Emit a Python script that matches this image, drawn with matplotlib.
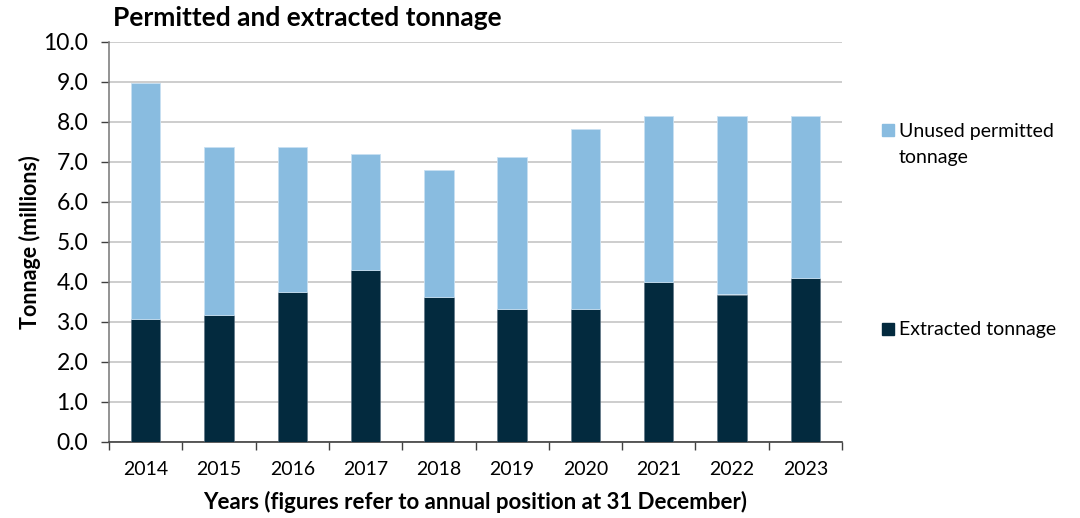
import matplotlib.pyplot as plt
import numpy as np
from matplotlib.patches import Rectangle

plt.rcParams['font.family'] = ['Lato', 'DejaVu Sans']

# Data (millions of tonnes)
years = ["2014", "2015", "2016", "2017", "2018", "2019", "2020", "2021", "2022", "2023"]
extracted = [3.07, 3.16, 3.74, 4.29, 3.63, 3.33, 3.33, 3.99, 3.68, 4.09]
permitted = [8.96, 7.38, 7.38, 7.18, 6.80, 7.13, 7.83, 8.13, 8.13, 8.13]
unused = [p - e for p, e in zip(permitted, extracted)]

dark = "#032a3e"
light = "#89bce0"

fig = plt.figure(figsize=(10.8, 5.18), dpi=100)
ax = fig.add_axes([109 / 1080, 1 - 441.7 / 518, 733 / 1080, 400 / 518])

x = np.arange(len(years))
ax.bar(x, extracted, width=0.4, color=dark, edgecolor="#5a7080", linewidth=0.4, zorder=3)
ax.bar(x, unused, width=0.4, bottom=extracted, color=light, edgecolor="#c8e0f2", linewidth=0.6, zorder=3)

ax.set_xlim(-0.5, len(years) - 0.5)
ax.set_ylim(0, 10)
yt = np.arange(0, 10.1, 1.0)
ax.set_yticks(yt)
ax.set_yticklabels([f"{v:.1f}" for v in yt], fontsize=16.5)
ax.yaxis.grid(True, color="#c0c0c0", linewidth=1.1, zorder=0)
ax.set_axisbelow(True)

# category labels centered, tick marks at category boundaries
ax.set_xticks(x)
ax.set_xticklabels(years, fontsize=14)
ax.tick_params(axis="x", length=0, pad=14)
ax.set_xticks(np.arange(-0.5, len(years)), minor=True)
ax.tick_params(axis="x", which="minor", length=6, width=1, color="#404040", direction="out")
ax.tick_params(axis="y", length=6, width=1, color="#404040", pad=9)

for s in ["top", "right"]:
    ax.spines[s].set_visible(False)
ax.spines["left"].set_color("#808080")
ax.spines["left"].set_linewidth(1.2)
ax.spines["bottom"].set_color("#404040")
ax.spines["bottom"].set_linewidth(1.2)

ax.set_ylabel("Tonnage (millions)", fontsize=15.5, fontweight="bold", va="center")
ax.yaxis.set_label_coords((30 - 109) / 733, 0.5)
ax.set_xlabel("Years (figures refer to annual position at 31 December)", fontsize=16,
              fontweight="bold", va="center")
ax.xaxis.set_label_coords(0.5, (441.7 - 502) / 400)

fig.text(113 / 1080, 1 - 26 / 518, "Permitted and extracted tonnage", fontsize=19,
         fontweight="bold", ha="left", va="baseline")

# legend
fig.patches.append(Rectangle((882 / 1080, 1 - 136 / 518), 12 / 1080, 12 / 518,
                             transform=fig.transFigure, color=light))
fig.text(899 / 1080, 1 - 131 / 518, "Unused permitted", fontsize=14,
         ha="left", va="center")
fig.text(899 / 1080, 1 - 157 / 518, "tonnage", fontsize=14,
         ha="left", va="center")
fig.patches.append(Rectangle((882 / 1080, 1 - 335 / 518), 12 / 1080, 12 / 518,
                             transform=fig.transFigure, color=dark))
fig.text(899 / 1080, 1 - 329 / 518, "Extracted tonnage", fontsize=14,
         ha="left", va="center")

fig.savefig("out.png", dpi=100)
